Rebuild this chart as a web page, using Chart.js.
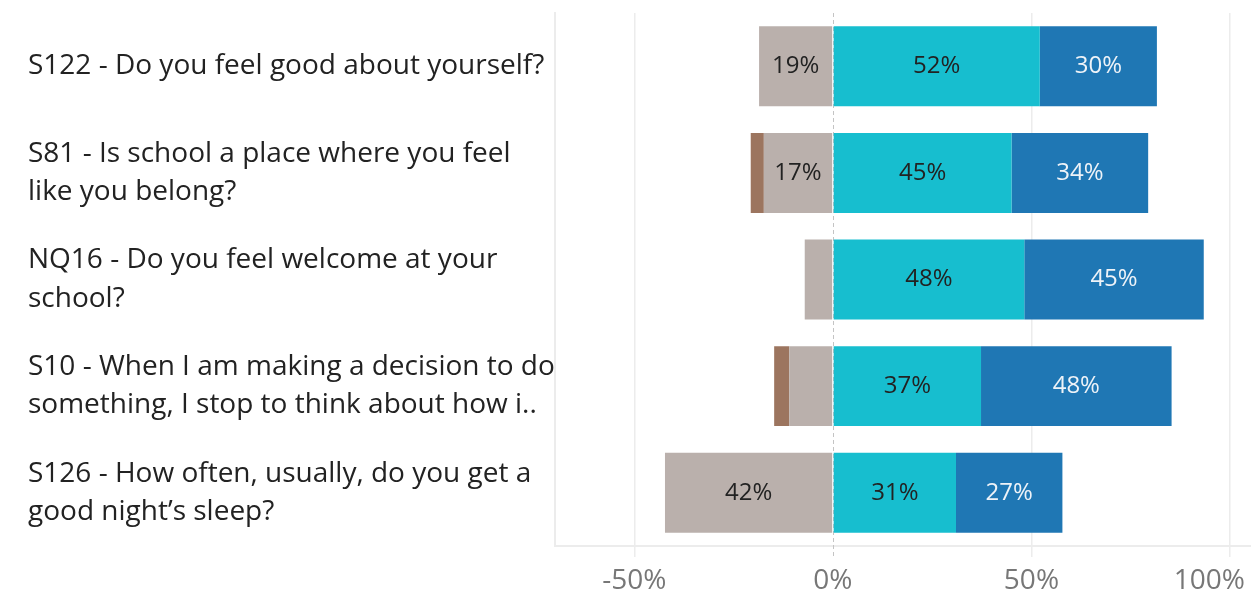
<!DOCTYPE html>
<html>
<head>
<meta charset="utf-8">
<script src="https://cdn.jsdelivr.net/npm/chart.js@4"></script>
<style>
  html, body { margin: 0; padding: 0; background: #fff; }
  #wrap { width: 1251px; height: 594px; position: relative; }
</style>
</head>
<body>
<div id="wrap"><canvas id="chart"></canvas></div>
<script>
// survey questions (wrapped the way the original shows them)
const questions = [
  ['S122 - Do you feel good about yourself?'],
  ['S81 - Is school a place where you feel', 'like you belong?'],
  ['NQ16 - Do you feel welcome at your', 'school?'],
  ['S10 - When I am making a decision to do', 'something, I stop to think about how i..'],
  ['S126 - How often, usually, do you get a', 'good night\u2019s sleep?'],
];

// percentages (negative side stored as positive shares)
const brownShare = [0, 3.3, 0, 3.8, 0];
const greyShare  = [18.6, 17.4, 7.1, 11, 42.3];
const cyanShare  = [52.1, 45, 48.2, 37.3, 31];
const blueShare  = [29.5, 34.4, 45.2, 48, 26.8];

const xTicks = [-50, 0, 50, 100];

const FONT = '"Open Sans", Lato, sans-serif';

const labelPlugin = {
  id: 'barLabels',
  beforeDatasetsDraw(chart) {
    // dashed zero line
    const { ctx, chartArea, scales } = chart;
    const x = Math.round(scales.x.getPixelForValue(0)) + 0.5;
    ctx.save();
    ctx.strokeStyle = '#c4c4c4';
    ctx.lineWidth = 1;
    ctx.setLineDash([4, 3]);
    ctx.beginPath();
    ctx.moveTo(x, chartArea.top);
    ctx.lineTo(x, chartArea.bottom + 11);
    ctx.stroke();
    ctx.restore();
  },
  afterDatasetsDraw(chart) {
    const { ctx } = chart;
    ctx.save();
    ctx.font = '24px ' + FONT;
    ctx.textAlign = 'center';
    ctx.textBaseline = 'middle';
    chart.data.datasets.forEach((ds, i) => {
      const meta = chart.getDatasetMeta(i);
      meta.data.forEach((bar, j) => {
        const v = Math.abs(ds.data[j]);
        if (v < 15) return;
        ctx.fillStyle = ds.labelColor;
        ctx.fillText(Math.round(v) + '%', (bar.x + bar.base) / 2, bar.y);
      });
    });
    ctx.restore();
  },
  afterDraw(chart) {
    // x tick labels, kept inside the canvas like the original
    const { ctx, scales } = chart;
    const s = scales.x;
    ctx.save();
    ctx.font = '28px ' + FONT;
    ctx.fillStyle = '#777';
    ctx.textBaseline = 'middle';
    xTicks.forEach(v => {
      const x = s.getPixelForValue(v);
      const w = ctx.measureText(v + '%').width;
      let left = x - w / 2;
      if (left + w > chart.width - 6) left = chart.width - 6 - w;
      ctx.textAlign = 'left';
      ctx.fillText(v + '%', left, s.top + 35);
    });
    ctx.restore();
  },
};

new Chart(document.getElementById('chart'), {
  type: 'bar',
  data: {
    labels: questions,
    datasets: [
      { data: greyShare.map(v => -v), backgroundColor: '#bab0ac', labelColor: '#222' },
      { data: brownShare.map(v => -v), backgroundColor: '#9c755f', labelColor: '#fff' },
      { data: cyanShare, backgroundColor: '#17becf', labelColor: '#222' },
      { data: blueShare, backgroundColor: '#1f77b4', labelColor: '#eef3f8' },
    ],
  },
  options: {
    indexAxis: 'y',
    responsive: true,
    maintainAspectRatio: false,
    animation: false,
    layout: { padding: { left: 28, top: 13, right: 0, bottom: 0 } },
    datasets: { bar: { barPercentage: 0.75, categoryPercentage: 1, borderWidth: 0 } },
    plugins: { legend: { display: false }, tooltip: { enabled: false } },
    scales: {
      x: {
        stacked: true,
        min: -70,
        max: 105.3,
        afterBuildTicks: s => { s.ticks = xTicks.map(v => ({ value: v })); },
        afterFit: s => { s.height = 48; s.paddingLeft = 0; s.paddingRight = 0; },
        ticks: { display: false },
        grid: {
          color: ctx => (ctx.tick && ctx.tick.value === 0 ? 'rgba(0,0,0,0)' : '#ececec'),
          lineWidth: 1.5,
          tickLength: 11,
          drawTicks: true,
        },
        border: { display: true, color: '#ececec', width: 2 },
      },
      y: {
        stacked: true,
        afterFit: s => { s.width = 527; s.paddingTop = 0; s.paddingBottom = 0; },
        grid: { display: false },
        border: { display: true, color: '#ececec', width: 2 },
        ticks: {
          crossAlign: 'far',
          color: '#222',
          padding: 0,
          font: { family: FONT, size: 28, lineHeight: 1.36 },
        },
      },
    },
  },
  plugins: [labelPlugin],
});
</script>
</body>
</html>
